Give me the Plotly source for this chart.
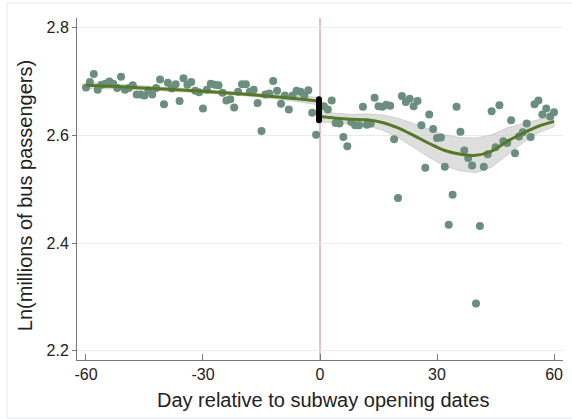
import plotly.graph_objects as go

# ---------------- data ----------------
pre_days = list(range(-60, 0))
pre_vals = [2.689, 2.699, 2.714, 2.685, 2.694, 2.696, 2.700, 2.696, 2.688, 2.709,
            2.685, 2.688, 2.693, 2.676, 2.676, 2.674, 2.684, 2.676, 2.688, 2.704,
            2.658, 2.698, 2.687, 2.695, 2.664, 2.706, 2.694, 2.699, 2.683, 2.680,
            2.650, 2.685, 2.696, 2.694, 2.693, 2.679, 2.665, 2.667, 2.652, 2.681,
            2.695, 2.695, 2.681, 2.685, 2.660, 2.608, 2.676, 2.678, 2.701, 2.683,
            2.659, 2.674, 2.648, 2.674, 2.683, 2.681, 2.674, 2.684, 2.642, 2.601]

post_days = list(range(1, 61))
post_vals = [2.654, 2.648, 2.665, 2.623, 2.622, 2.597, 2.580, 2.625, 2.619, 2.619,
             2.653, 2.620, 2.622, 2.670, 2.654, 2.653, 2.657, 2.655, 2.593, 2.484,
             2.673, 2.662, 2.668, 2.654, 2.664, 2.619, 2.540, 2.639, 2.612, 2.595,
             2.596, 2.542, 2.434, 2.490, 2.653, 2.607, 2.572, 2.558, 2.544, 2.288,
             2.432, 2.542, 2.565, 2.645, 2.578, 2.656, 2.589, 2.586, 2.628, 2.567,
             2.598, 2.606, 2.622, 2.597, 2.658, 2.665, 2.639, 2.650, 2.635, 2.643]

pre_fit_days = [-60, -50, -40, -30, -20, -10, -0.5]
pre_fit = [2.693, 2.690, 2.686, 2.682, 2.677, 2.671, 2.664]
pre_half = [0.006, 0.004, 0.003, 0.003, 0.003, 0.004, 0.007]

post_fit_days = [0, 4, 8, 12, 16, 20, 24, 28, 32, 36, 40, 44, 48, 52, 56, 60]
post_fit = [2.635, 2.632, 2.630, 2.629, 2.624, 2.614, 2.600, 2.585, 2.572, 2.565,
            2.563, 2.571, 2.589, 2.604, 2.617, 2.626]
post_half = [0.010, 0.009, 0.009, 0.011, 0.014, 0.018, 0.022, 0.026, 0.029, 0.031,
             0.032, 0.030, 0.025, 0.018, 0.012, 0.010]

jump_day = -0.25
jump_lo, jump_hi = 2.628, 2.667

x_ticks = [-60, -30, 0, 30, 60]
y_ticks = [2.2, 2.4, 2.6, 2.8]

# ---------------- style ----------------
DOT = "#6a8e80"
FIT = "#557a22"
BAND = "rgba(200,200,200,0.6)"
FONT = "Arial, Liberation Sans, sans-serif"

fig = go.Figure()


def band(days, fit, half):
    up = [f + h for f, h in zip(fit, half)]
    lo = [f - h for f, h in zip(fit, half)]
    fig.add_trace(go.Scatter(x=days + days[::-1], y=up + lo[::-1], fill="toself",
                             fillcolor=BAND, line=dict(width=0.8, color="rgba(190,190,190,0.8)"),
                             mode="lines", hoverinfo="skip", showlegend=False))


band(pre_fit_days, pre_fit, pre_half)
band(post_fit_days, post_fit, post_half)

fig.add_trace(go.Scatter(x=pre_days, y=pre_vals, mode="markers",
                         marker=dict(color=DOT, size=8), showlegend=False))
fig.add_trace(go.Scatter(x=post_days, y=post_vals, mode="markers",
                         marker=dict(color=DOT, size=8), showlegend=False))

fig.add_trace(go.Scatter(x=pre_fit_days, y=pre_fit, mode="lines", line=dict(color=FIT, width=3, shape="spline"),
                         showlegend=False))
fig.add_trace(go.Scatter(x=post_fit_days, y=post_fit, mode="lines", line=dict(color=FIT, width=3, shape="spline"),
                         showlegend=False))

# jump bar with rounded ends
fig.add_trace(go.Scatter(x=[jump_day, jump_day], y=[jump_lo, jump_hi], mode="lines+markers",
                         line=dict(color="black", width=6),
                         marker=dict(color="black", size=6, line=dict(width=0)), showlegend=False))

# vertical line at 0
fig.add_shape(type="line", xref="x", yref="paper", x0=0, x1=0, y0=0, y1=1,
              line=dict(color="#eda3b5", width=1.5), layer="below")

# outer frame
fig.add_shape(type="rect", xref="paper", yref="paper", x0=-0.144, x1=1.03, y0=-0.1696, y1=1.0439,
              line=dict(color="#e2eaec", width=1))

fig.update_layout(
    width=572, height=419,
    margin=dict(l=77, r=9, t=18, b=59),
    paper_bgcolor="white", plot_bgcolor="white",
    font=dict(family=FONT, color="#222", size=16),
    xaxis=dict(range=[-62.3, 62.3], tickvals=x_ticks, ticktext=["-60", "-30", "0", "30", "60"],
               showgrid=False, zeroline=False, showline=True, linecolor="#777", linewidth=1,
               ticks="inside", ticklen=6, tickcolor="#777", tickfont=dict(size=16, family=FONT)),
    yaxis=dict(range=[2.183, 2.818], tickvals=y_ticks, ticktext=["2.2", "2.4", "2.6", "2.8"],
               showgrid=True, gridcolor="#e4eeee", gridwidth=1, zeroline=False,
               showline=True, linecolor="#777", linewidth=1,
               ticks="outside", ticklen=4, tickcolor="#777", tickfont=dict(size=16, family=FONT)),
    annotations=[
        dict(text="Day relative to subway opening dates", xref="paper", yref="paper",
             x=0.506, y=-0.117, showarrow=False, font=dict(size=20, family=FONT, color="#222"),
             xanchor="center", yanchor="middle"),
        dict(text="Ln(millions of bus passengers)", xref="paper", yref="paper",
             x=-0.107, y=0.482, showarrow=False, textangle=-90,
             font=dict(size=20, family=FONT, color="#222"), xanchor="center", yanchor="middle"),
    ],
)

fig.write_html("out.html")
